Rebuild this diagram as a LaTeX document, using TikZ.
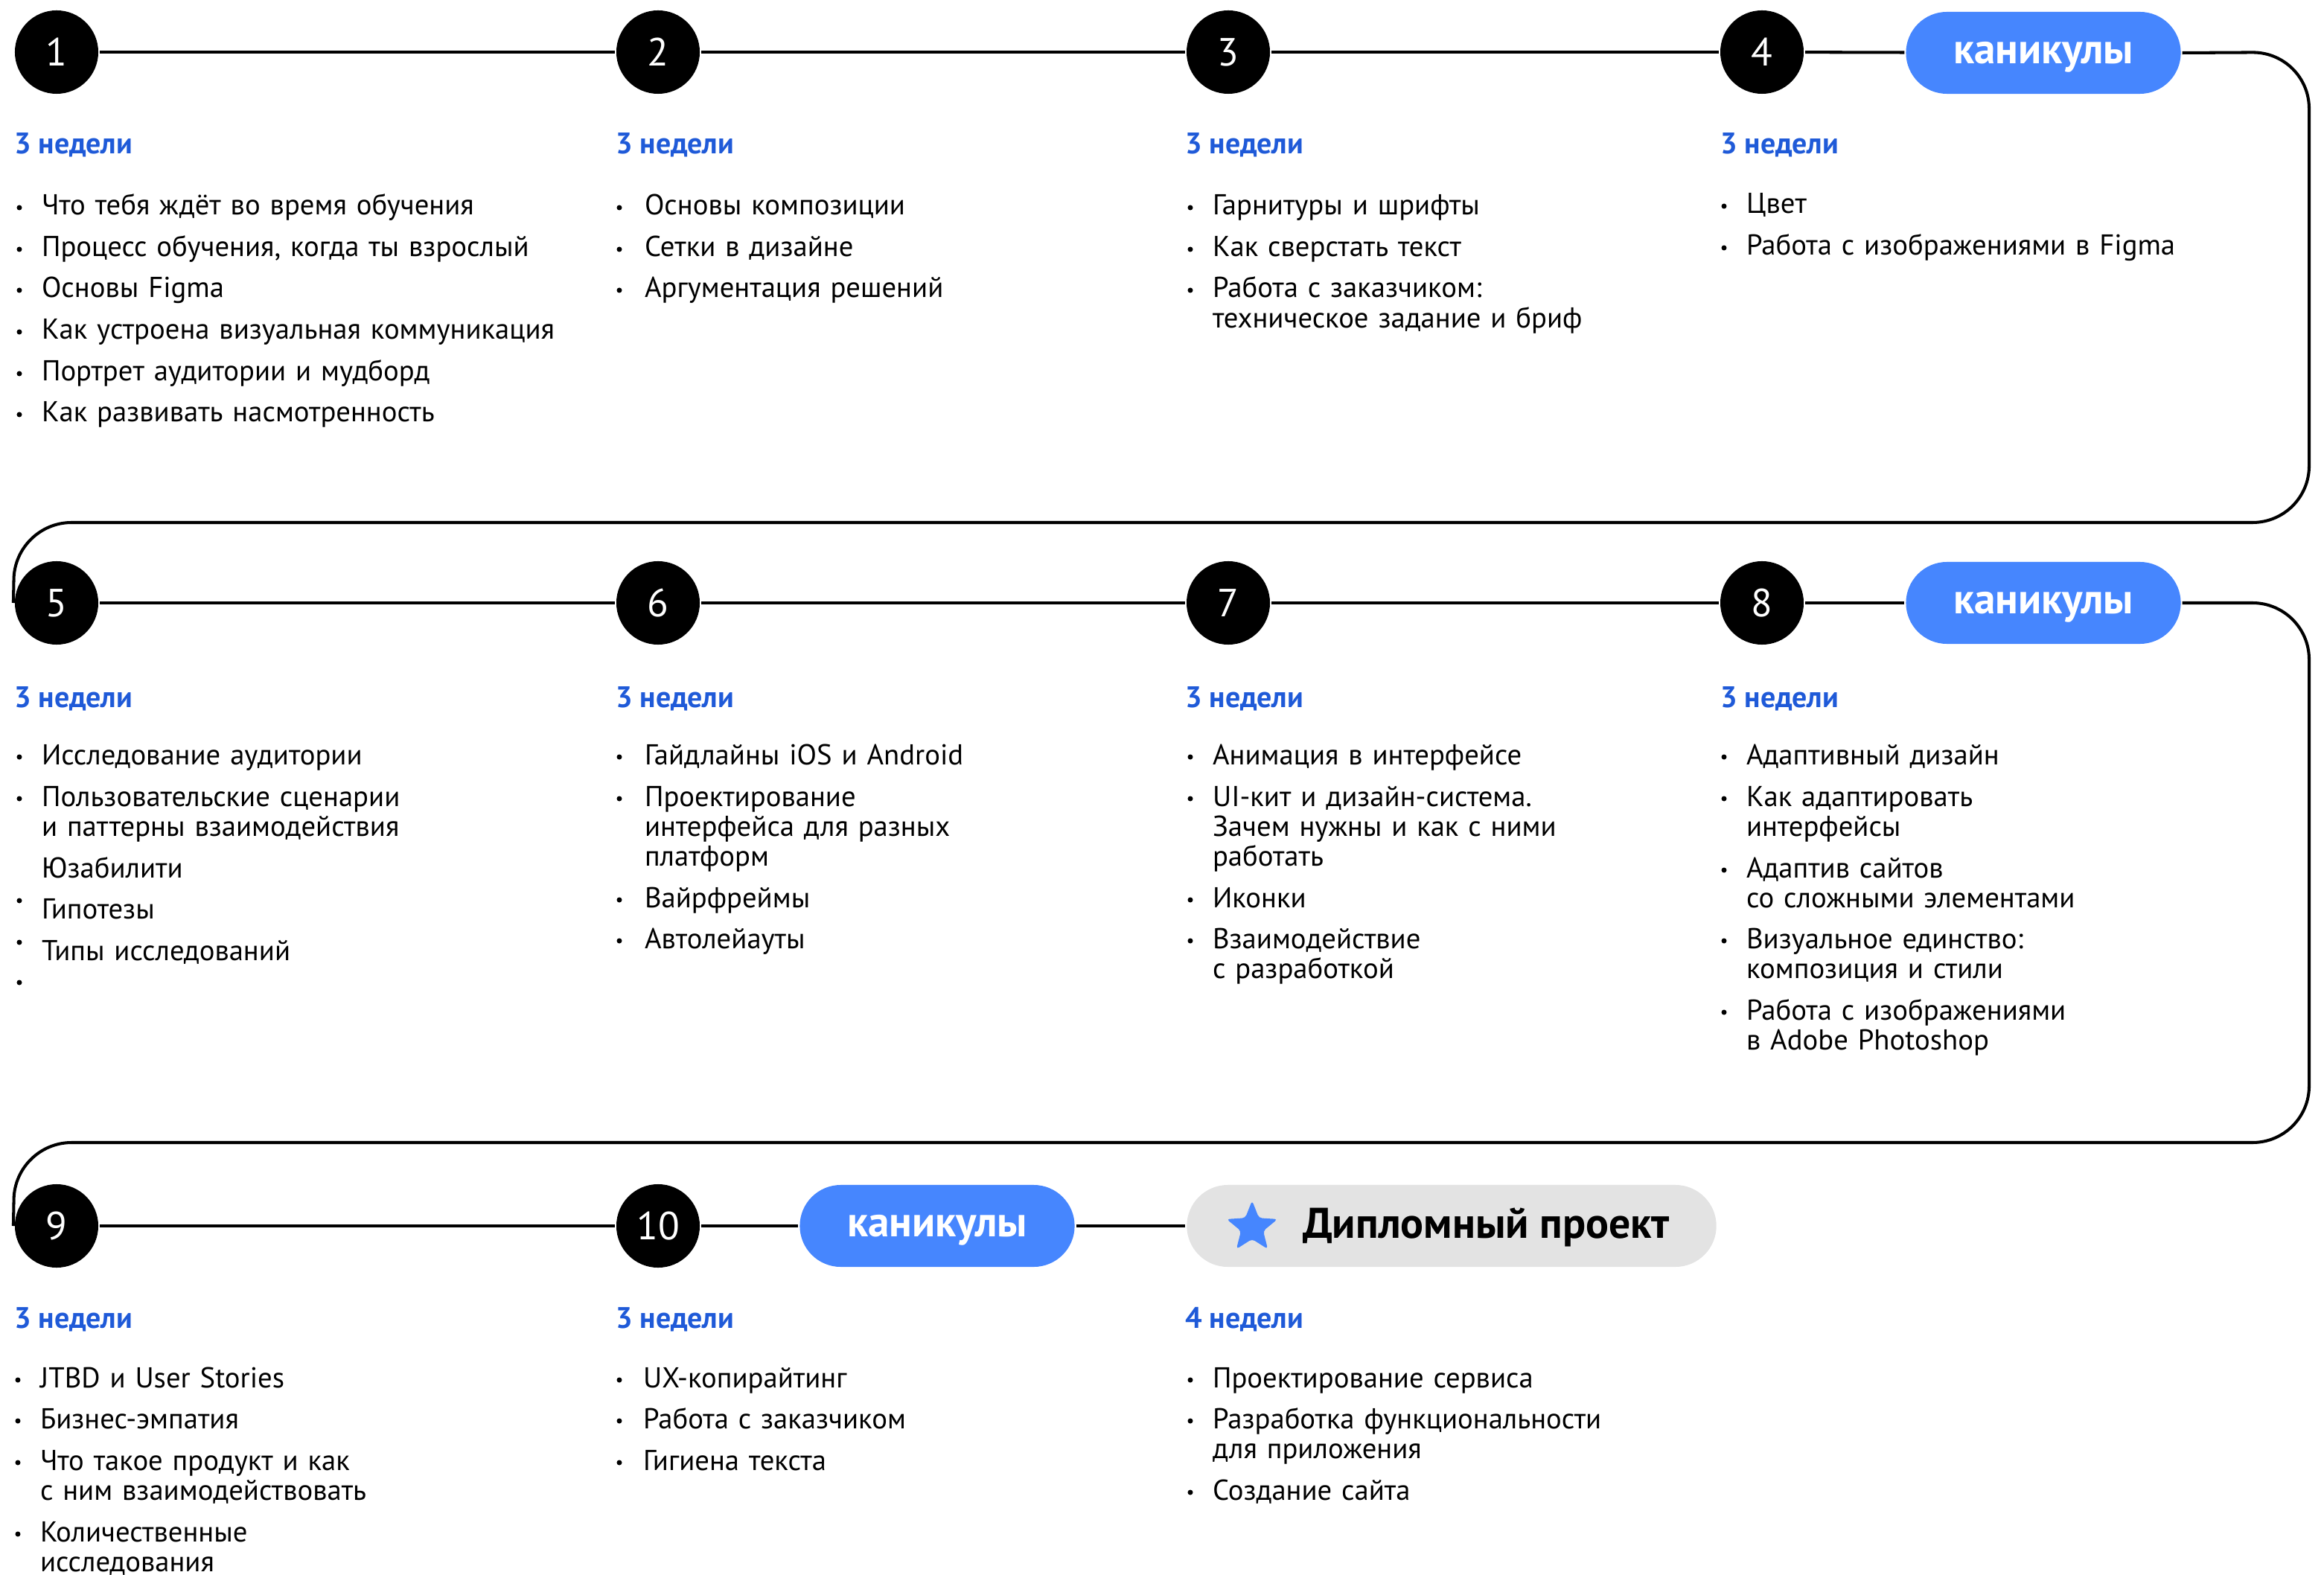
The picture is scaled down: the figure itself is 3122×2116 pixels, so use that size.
\documentclass[tikz,border=0pt]{standalone}
\usepackage{fontspec}
\setmainfont{PT Sans}
\usetikzlibrary{shapes.geometric}
\definecolor{pillblue}{HTML}{4686FE}
\definecolor{weekblue}{HTML}{1F5AD8}
\definecolor{diplgray}{HTML}{E3E3E3}
\begin{document}
\begin{tikzpicture}[
        x=0.01cm, y=-0.01cm,
        line width=1.15pt,
        font=\fontsize{11}{11.4}\selectfont
    ]
    \tikzset{
        stepnum/.style = {circle, fill=black, minimum size=1.12cm, inner sep=0, text=white, font=\fontsize{15}{15}\selectfont},
        holiday/.style = {rectangle, rounded corners=0.55cm, fill=pillblue, minimum width=3.69cm, minimum height=1.10cm, inner sep=0, text height=8.2pt, text depth=0pt, text=white, font=\fontsize{16.3}{17}\selectfont\bfseries},
        diploma/.style = {rectangle, rounded corners=0.55cm, fill=diplgray, minimum width=7.11cm, minimum height=1.10cm, inner sep=0},
        weeks/.style = {anchor=base west, inner sep=0, text=weekblue, font=\fontsize{11.35}{12}\selectfont\bfseries},
        item/.style = {anchor=base west, inner sep=0, text width=9cm, align=left},
        dot/.style = {circle, fill=black, inner sep=0, minimum size=0.07cm},
        conn/.style = {-, line width=1.15pt},
    }
    \useasboundingbox (0,0) rectangle (3122,2116);
    % step circles and pills
    \node[stepnum] (c1) at (76,70) {1};
    \node[stepnum] (c2) at (884,70) {2};
    \node[stepnum] (c3) at (1650,70) {3};
    \node[stepnum] (c4) at (2367,70) {4};
    \node[holiday] (k1) at (2745,71) {каникулы};
    %
    \node[stepnum] (c5) at (76,810) {5};
    \node[stepnum] (c6) at (884,810) {6};
    \node[stepnum] (c7) at (1650,810) {7};
    \node[stepnum] (c8) at (2367,810) {8};
    \node[holiday] (k2) at (2745,810) {каникулы};
    %
    \node[stepnum] (c9) at (76,1647) {9};
    \node[stepnum] (c10) at (884,1647) {10};
    \node[holiday] (k3) at (1259,1647) {каникулы};
    \node[diploma] (dp) at (1950,1647) {};
    \node[star, star points=5, star point ratio=2.3, fill=pillblue, minimum size=0.72cm, inner sep=0, rounded corners=1.2pt] (star) at (1682,1649) {};
    \node[anchor=base west, inner sep=0, font=\fontsize{16.4}{17}\selectfont\bfseries] (dptext) at (1748,1663) {Дипломный проект};
    %
    \foreach \a/\b in {c1/c2,c2/c3,c3/c4,c4/k1,c5/c6,c6/c7,c7/c8,c8/k2,c9/c10,c10/k3,k3/dp}
        \draw[conn] (\a) -- (\b);
    \draw[conn] (k1.east) [rounded corners=0.76cm] -- (3102,70) -- (3102,702) -- (20,702) [rounded corners=0.55cm] -- (c5.west);
    \draw[conn] (k2.east) [rounded corners=0.76cm] -- (3102,810) -- (3102,1535) -- (20,1535) [rounded corners=0.55cm] -- (c9.west);
    % weeks
    \node[weeks] (w1) at (17,207) {3 недели};
    \node[weeks] (w2) at (825,207) {3 недели};
    \node[weeks] (w3) at (1590,207) {3 недели};
    \node[weeks] (w4) at (2309,207) {3 недели};
    \node[weeks] (w5) at (17,950) {3 недели};
    \node[weeks] (w6) at (825,950) {3 недели};
    \node[weeks] (w7) at (1590,950) {3 недели};
    \node[weeks] (w8) at (2309,950) {3 недели};
    \node[weeks] (w9) at (17,1784) {3 недели};
    \node[weeks] (w10) at (825,1784) {3 недели};
    \node[weeks] (w11) at (1590,1784) {4 недели};
    % row 1
    \foreach \y/\t [count=\i] in {289/{Что тебя ждёт во время обучения}, 345/{Процесс обучения, когда ты взрослый}, 400/{Основы Figma}, 456/{Как устроена визуальная коммуникация}, 512/{Портрет аудитории и мудборд}, 567/{Как развивать насмотренность}} {
        \node[dot] (b1-\i) at (26,\y-10) {};
        \node[item] (t1-\i) at (54,\y) {\t};
    }
    \foreach \y/\t [count=\i] in {289/{Основы композиции}, 345/{Сетки в дизайне}, 400/{Аргументация решений}} {
        \node[dot] (b2-\i) at (832,\y-10) {};
        \node[item] (t2-\i) at (864,\y) {\t};
    }
    \foreach \y/\t [count=\i] in {289/{Гарнитуры и шрифты}, 345/{Как сверстать текст}, 400/{Работа с заказчиком:\\техническое задание и бриф}} {
        \node[dot] (b3-\i) at (1599,\y-10) {};
        \node[item] (t3-\i) at (1627,\y) {\t};
    }
    \foreach \y/\t [count=\i] in {287/{Цвет}, 343/{Работа с изображениями в Figma}} {
        \node[dot] (b4-\i) at (2316,\y-10) {};
        \node[item] (t4-\i) at (2344,\y) {\t};
    }
    % row 2
    \foreach \y/\t [count=\i] in {1027/{Исследование аудитории}, 1083/{Пользовательские сценарии\\и паттерны взаимодействия}, 1179/{Юзабилити}, 1234/{Гипотезы}, 1290/{Типы исследований}}
        \node[item] (t5-\i) at (54,\y) {\t};
    \foreach \y [count=\i] in {1017,1073,1210,1266,1320}
        \node[dot] (b5-\i) at (26,\y) {};
    \foreach \y/\t [count=\i] in {1027/{Гайдлайны iOS и Android}, 1083/{Проектирование\\интерфейса для разных\\платформ}, 1219/{Вайрфреймы}, 1274/{Автолейауты}} {
        \node[dot] (b6-\i) at (832,\y-10) {};
        \node[item] (t6-\i) at (864,\y) {\t};
    }
    \foreach \y/\t [count=\i] in {1027/{Анимация в интерфейсе}, 1083/{UI-кит и дизайн-система.\\Зачем нужны и как с ними\\работать}, 1219/{Иконки}, 1274/{Взаимодействие\\с разработкой}} {
        \node[dot] (b7-\i) at (1599,\y-10) {};
        \node[item] (t7-\i) at (1627,\y) {\t};
    }
    \foreach \y/\t [count=\i] in {1027/{Адаптивный дизайн}, 1083/{Как адаптировать\\интерфейсы}, 1179/{Адаптив сайтов\\со сложными элементами}, 1274/{Визуальное единство:\\композиция и стили}, 1370/{Работа с изображениями\\в Adobe Photoshop}} {
        \node[dot] (b8-\i) at (2316,\y-10) {};
        \node[item] (t8-\i) at (2344,\y) {\t};
    }
    % row 3
    \foreach \y/\t [count=\i] in {1864/{JTBD и User Stories}, 1919/{Бизнес-эмпатия}, 1975/{Что такое продукт и как\\с ним взаимодействовать}, 2071/{Количественные\\исследования}} {
        \node[dot] (b9-\i) at (24,\y-10) {};
        \node[item] (t9-\i) at (52,\y) {\t};
    }
    \foreach \y/\t [count=\i] in {1864/{UX-копирайтинг}, 1919/{Работа с заказчиком}, 1975/{Гигиена текста}} {
        \node[dot] (b10-\i) at (832,\y-10) {};
        \node[item] (t10-\i) at (862,\y) {\t};
    }
    \foreach \y/\t [count=\i] in {1864/{Проектирование сервиса}, 1919/{Разработка функциональности\\для приложения}, 2015/{Создание сайта}} {
        \node[dot] (b11-\i) at (1599,\y-10) {};
        \node[item] (t11-\i) at (1627,\y) {\t};
    }
\end{tikzpicture}
\end{document}
